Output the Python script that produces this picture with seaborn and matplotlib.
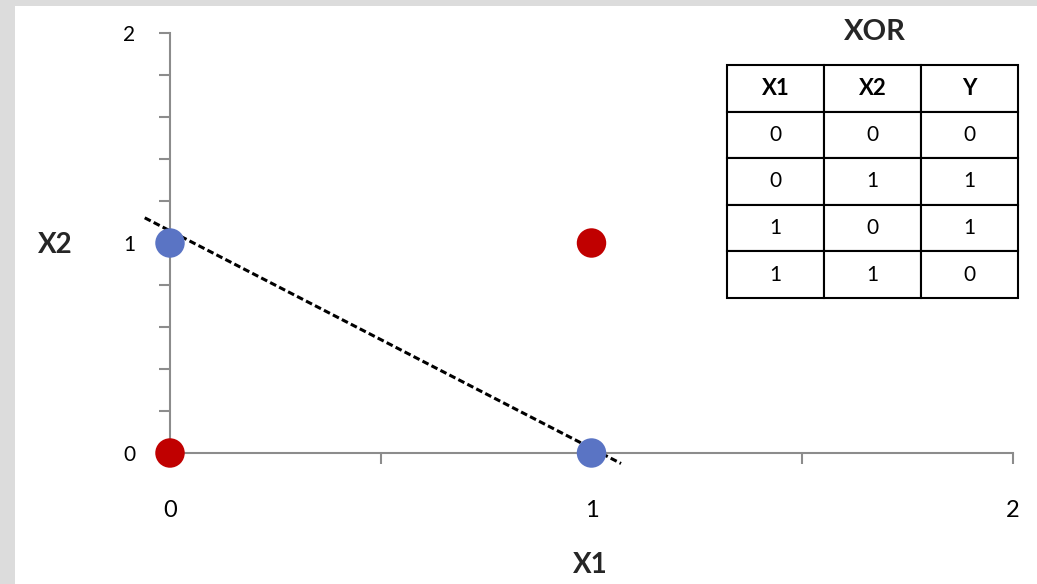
import matplotlib
matplotlib.use("Agg")
import matplotlib.pyplot as plt
import seaborn as sns
import pandas as pd
import numpy as np
from matplotlib.patches import Rectangle
from matplotlib.ticker import MultipleLocator, FixedLocator

# ---- data ----
x1_vals = [0, 0, 1, 1]
x2_vals = [0, 1, 0, 1]
y_vals = [0, 1, 1, 0]
line_x = [-0.06, 1.07]
line_y = [1.12, -0.05]
table_header = ["X1", "X2", "Y"]
table_rows = [["0", "0", "0"], ["0", "1", "1"], ["1", "0", "1"], ["1", "1", "0"]]
major_ticks = [0, 1, 2]
tick_labels = ["0", "1", "2"]

sns.set_style("white")
plt.rcParams['font.family'] = ['Lato', 'DejaVu Sans']

W, H = 1037, 584
fig = plt.figure(figsize=(W / 100, H / 100), dpi=100)
fig.patch.set_facecolor("#dcdcdc")
fig.patches.append(Rectangle((15 / W, 0), 1 - 15 / W, (H - 6) / H,
                             transform=fig.transFigure, facecolor="white",
                             edgecolor="none", zorder=-10))

ax = fig.add_axes([170 / W, (H - 453) / H, (1013 - 170) / W, (453 - 33) / H])
ax.set_facecolor("none")

df = pd.DataFrame({"X1": x1_vals, "X2": x2_vals, "Y": y_vals})
ax.plot(line_x, line_y, color="black", linestyle=(0, (2.2, 1.1)), linewidth=2.2,
        clip_on=False, zorder=2)
sns.scatterplot(data=df, x="X1", y="X2", hue="Y",
                palette={0: "#C00000", 1: "#5A74C4"}, s=450, edgecolor="none",
                legend=False, ax=ax, clip_on=False, zorder=3)

ax.set_xlim(0, 2)
ax.set_ylim(0, 2)
for side in ["top", "right"]:
    ax.spines[side].set_visible(False)
for side in ["left", "bottom"]:
    ax.spines[side].set_color("#8c8c8c")
    ax.spines[side].set_linewidth(1.5)

ax.xaxis.set_major_locator(FixedLocator(major_ticks))
ax.yaxis.set_major_locator(FixedLocator(major_ticks))
ax.set_xticklabels(tick_labels)
ax.set_yticklabels(tick_labels)
ax.xaxis.set_minor_locator(MultipleLocator(0.5))
ax.yaxis.set_minor_locator(MultipleLocator(0.2))
ax.tick_params(axis="x", which="both", bottom=True, direction="out", length=8,
               width=1.5, color="#8c8c8c")
ax.tick_params(axis="y", which="both", left=True, direction="out", length=8,
               width=1.5, color="#8c8c8c")
ax.tick_params(axis="x", which="major", pad=26, labelsize=17, labelcolor="black")
ax.tick_params(axis="y", which="major", pad=17, labelsize=15, labelcolor="black")

ax.set_xlabel("X1", fontsize=20, fontweight="bold")
ax.set_ylabel("X2", fontsize=20, fontweight="bold", rotation=0)
ax.xaxis.set_label_coords((590 - 170) / 843, (453 - 565) / 420)
ax.yaxis.set_label_coords((55 - 170) / 843, (453 - 245) / 420)
ax.yaxis.label.set_verticalalignment("center")
ax.xaxis.label.set_verticalalignment("center")

# ---- table ----
tax = fig.add_axes([727 / W, (H - 298) / H, (1018 - 727) / W, (298 - 65) / H])
tax.axis("off")
tbl = tax.table(cellText=table_rows, colLabels=table_header, cellLoc="center",
                bbox=[0, 0, 1, 1])
tbl.auto_set_font_size(False)
for (r, c), cell in tbl.get_celld().items():
    cell.set_linewidth(1.5)
    cell.set_edgecolor("black")
    cell.get_text().set_fontsize(15)
    cell.get_text().set_color("black")
    if r == 0:
        cell.get_text().set_fontweight("bold")
        cell.get_text().set_fontsize(16)
fig.text(875 / W, (H - 32) / H, "XOR", ha="center", va="center",
         fontsize=21, fontweight="bold")

fig.savefig("out.png", dpi=100)
